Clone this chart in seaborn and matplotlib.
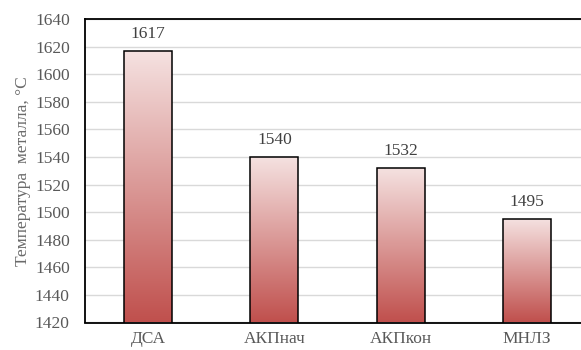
import numpy as np
import pandas as pd
import matplotlib
matplotlib.use("Agg")
import matplotlib.pyplot as plt
import seaborn as sns
from matplotlib.colors import LinearSegmentedColormap
from matplotlib.patches import Rectangle

# Metal temperature at each stage of the process
stages = ["ДСА", "АКПнач", "АКПкон", "МНЛЗ"]
temps = [1617, 1540, 1532, 1495]
y_ticks = [1420, 1440, 1460, 1480, 1500, 1520, 1540, 1560, 1580, 1600, 1620, 1640]

df = pd.DataFrame({"stage": stages, "temp": temps})

sns.set_theme(style="white")
plt.rcParams["font.family"] = ["Liberation Serif", "DejaVu Serif"]

fig = plt.figure(figsize=(5.81, 3.5), dpi=100)
ax = fig.add_axes([85 / 581, 1 - 322.5 / 350, 505 / 581, 303.5 / 350])

sns.barplot(data=df, x="stage", y="temp", ax=ax, width=0.38,
            color="#c0504d", edgecolor="black", linewidth=1.1, zorder=3)

ymin, ymax = y_ticks[0], y_ticks[-1]
ax.set_ylim(ymin, ymax)
ax.set_xlim(-0.5, len(stages) - 0.5)
ax.set_yticks(y_ticks)

# vertical gradient fill over the visible part of every bar
cmap = LinearSegmentedColormap.from_list("grad", ["#c0504d", "#f5e2e1"])
grad = np.linspace(0, 1, 256).reshape(-1, 1)
for patch in list(ax.patches):
    x0, w = patch.get_x(), patch.get_width()
    top = patch.get_y() + patch.get_height()
    patch.set_facecolor("none")
    im = ax.imshow(grad, cmap=cmap, origin="lower", aspect="auto",
                   extent=[x0, x0 + w, ymin, top], zorder=2.5,
                   interpolation="bicubic")
    clip = Rectangle((x0, ymin), w, top - ymin, transform=ax.transData)
    im.set_clip_path(clip)
ax.set_xlim(-0.5, len(stages) - 0.5)
ax.set_ylim(ymin, ymax)

# value labels above bars
for i, t in enumerate(temps):
    ax.text(i, t + 6.5, f"{t}", ha="center", va="bottom",
            fontsize=12.5, color="#404040")

ax.grid(axis="y", color="#d9d9d9", linewidth=1.0, zorder=0)
ax.grid(axis="x", visible=False)
for side in ["left", "top", "bottom"]:
    ax.spines[side].set_color("black")
    ax.spines[side].set_linewidth(1.3)
ax.spines["right"].set_visible(False)

ax.tick_params(axis="y", length=0, pad=11, labelsize=12.5, labelcolor="#595959")
ax.tick_params(axis="x", length=0, pad=6, labelsize=12.5, labelcolor="#595959")
ax.set_xlabel("")
ax.set_ylabel("Температура  металла, °C", fontsize=12.5, color="#6a6a6a", labelpad=3)

fig.savefig("out.png", dpi=100)
